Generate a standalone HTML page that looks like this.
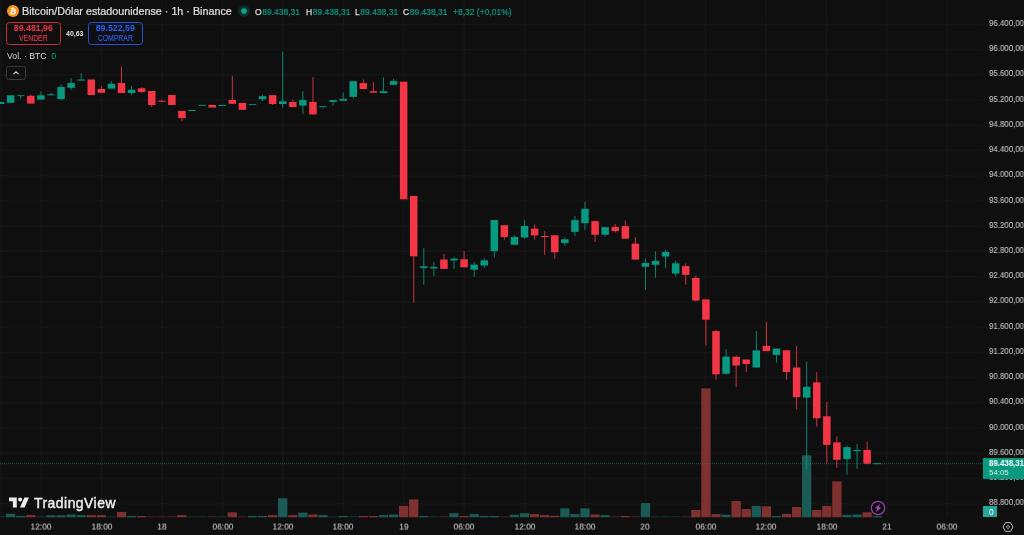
<!DOCTYPE html>
<html lang="es"><head><meta charset="utf-8"><title>BTCUSD</title>
<style>
html,body{margin:0;padding:0;background:#0f0f0f;}
body{width:1024px;height:535px;overflow:hidden;position:relative;font-family:"Liberation Sans",sans-serif;color:#d1d4dc;}
#chart{position:absolute;left:0;top:0;}
.pl{position:absolute;left:988.8px;transform:scaleX(0.955);transform-origin:0 50%;height:12px;line-height:12px;font-size:8.25px;color:#c2c2c2;-webkit-text-stroke:0.1px #c2c2c2;white-space:nowrap;}
.tl{position:absolute;top:520.6px;transform:translateY(-0.4px) rotate(0.02deg);width:60px;text-align:center;height:12px;line-height:12px;font-size:8.4px;color:#c2c2c2;-webkit-text-stroke:0.1px #c2c2c2;white-space:nowrap;}
.abs{position:absolute;white-space:nowrap;}
.abs,.pl,.tl{will-change:transform;}
.ohlc{top:5.5px;transform:translateY(0.2px);height:12px;line-height:12px;font-size:8.5px;color:#0a9e85;-webkit-text-stroke:0.2px #0a9e85;}
.ohlc .k{color:#dadada;-webkit-text-stroke:0.25px #dadada;margin-right:0.6px}
.btn{height:20.6px;border:1px solid;border-radius:3.5px;text-align:center;}
.btn b{display:block;font-size:8.8px;line-height:10px;height:10px;margin-top:0.3px;transform:translateY(0.4px);}
.btn span{display:block;font-size:8.5px;line-height:9px;height:9px;margin-top:0.4px;transform:translateY(-0.1px) scaleX(0.81);-webkit-text-stroke:0.12px;}
</style></head><body>
<svg id="chart" width="1024" height="535" viewBox="0 0 1024 535">
<rect x="0.3" y="0" width="1.5" height="517" fill="#161616"/>
<rect x="40.40" y="0" width="1.8" height="517" fill="#151515"/>
<rect x="100.80" y="0" width="1.8" height="517" fill="#151515"/>
<rect x="161.20" y="0" width="1.8" height="517" fill="#151515"/>
<rect x="221.60" y="0" width="1.8" height="517" fill="#151515"/>
<rect x="282.00" y="0" width="1.8" height="517" fill="#151515"/>
<rect x="342.40" y="0" width="1.8" height="517" fill="#151515"/>
<rect x="402.80" y="0" width="1.8" height="517" fill="#151515"/>
<rect x="463.20" y="0" width="1.8" height="517" fill="#151515"/>
<rect x="523.60" y="0" width="1.8" height="517" fill="#151515"/>
<rect x="584.00" y="0" width="1.8" height="517" fill="#151515"/>
<rect x="644.40" y="0" width="1.8" height="517" fill="#151515"/>
<rect x="704.80" y="0" width="1.8" height="517" fill="#151515"/>
<rect x="765.20" y="0" width="1.8" height="517" fill="#151515"/>
<rect x="825.60" y="0" width="1.8" height="517" fill="#151515"/>
<rect x="886.00" y="0" width="1.8" height="517" fill="#151515"/>
<rect x="946.40" y="0" width="1.8" height="517" fill="#151515"/>
<rect x="0" y="23.40" width="982.5" height="1.8" fill="#151515"/>
<rect x="0" y="48.63" width="982.5" height="1.8" fill="#151515"/>
<rect x="0" y="73.86" width="982.5" height="1.8" fill="#151515"/>
<rect x="0" y="99.09" width="982.5" height="1.8" fill="#151515"/>
<rect x="0" y="124.32" width="982.5" height="1.8" fill="#151515"/>
<rect x="0" y="149.55" width="982.5" height="1.8" fill="#151515"/>
<rect x="0" y="174.78" width="982.5" height="1.8" fill="#151515"/>
<rect x="0" y="200.01" width="982.5" height="1.8" fill="#151515"/>
<rect x="0" y="225.24" width="982.5" height="1.8" fill="#151515"/>
<rect x="0" y="250.47" width="982.5" height="1.8" fill="#151515"/>
<rect x="0" y="275.70" width="982.5" height="1.8" fill="#151515"/>
<rect x="0" y="300.93" width="982.5" height="1.8" fill="#151515"/>
<rect x="0" y="326.16" width="982.5" height="1.8" fill="#151515"/>
<rect x="0" y="351.39" width="982.5" height="1.8" fill="#151515"/>
<rect x="0" y="376.62" width="982.5" height="1.8" fill="#151515"/>
<rect x="0" y="401.85" width="982.5" height="1.8" fill="#151515"/>
<rect x="0" y="427.08" width="982.5" height="1.8" fill="#151515"/>
<rect x="0" y="452.31" width="982.5" height="1.8" fill="#151515"/>
<rect x="0" y="477.54" width="982.5" height="1.8" fill="#151515"/>
<rect x="0" y="502.77" width="982.5" height="1.8" fill="#151515"/>
<rect x="-4.05" y="516.30" width="9.3" height="1.00" fill="#123a36"/>
<rect x="6.02" y="513.80" width="9.3" height="3.50" fill="#1b5b55"/>
<rect x="16.10" y="516.00" width="9.3" height="1.30" fill="#1b5b55"/>
<rect x="26.17" y="515.10" width="9.3" height="2.20" fill="#7f3130"/>
<rect x="36.25" y="516.30" width="9.3" height="1.00" fill="#123a36"/>
<rect x="46.33" y="515.30" width="9.3" height="2.00" fill="#1b5b55"/>
<rect x="56.40" y="515.30" width="9.3" height="2.00" fill="#1b5b55"/>
<rect x="66.48" y="514.50" width="9.3" height="2.80" fill="#1b5b55"/>
<rect x="76.55" y="515.10" width="9.3" height="2.20" fill="#1b5b55"/>
<rect x="86.63" y="515.10" width="9.3" height="2.20" fill="#7f3130"/>
<rect x="96.71" y="515.10" width="9.3" height="2.20" fill="#7f3130"/>
<rect x="106.78" y="516.30" width="9.3" height="1.00" fill="#123a36"/>
<rect x="116.86" y="511.90" width="9.3" height="5.40" fill="#7f3130"/>
<rect x="126.93" y="516.00" width="9.3" height="1.30" fill="#1b5b55"/>
<rect x="137.01" y="516.00" width="9.3" height="1.30" fill="#7f3130"/>
<rect x="147.09" y="516.30" width="9.3" height="1.00" fill="#4a2221"/>
<rect x="157.16" y="516.30" width="9.3" height="1.00" fill="#4a2221"/>
<rect x="167.24" y="516.30" width="9.3" height="1.00" fill="#4a2221"/>
<rect x="177.31" y="515.10" width="9.3" height="2.20" fill="#7f3130"/>
<rect x="187.39" y="516.30" width="9.3" height="1.00" fill="#123a36"/>
<rect x="197.47" y="516.30" width="9.3" height="1.00" fill="#123a36"/>
<rect x="207.54" y="516.30" width="9.3" height="1.00" fill="#4a2221"/>
<rect x="217.62" y="516.30" width="9.3" height="1.00" fill="#123a36"/>
<rect x="227.69" y="512.30" width="9.3" height="5.00" fill="#7f3130"/>
<rect x="237.77" y="516.30" width="9.3" height="1.00" fill="#4a2221"/>
<rect x="247.85" y="516.00" width="9.3" height="1.30" fill="#1b5b55"/>
<rect x="257.92" y="516.00" width="9.3" height="1.30" fill="#1b5b55"/>
<rect x="268.00" y="515.10" width="9.3" height="2.20" fill="#7f3130"/>
<rect x="278.07" y="498.20" width="9.3" height="19.10" fill="#1b5b55"/>
<rect x="288.15" y="515.10" width="9.3" height="2.20" fill="#7f3130"/>
<rect x="298.23" y="512.60" width="9.3" height="4.70" fill="#1b5b55"/>
<rect x="308.30" y="514.50" width="9.3" height="2.80" fill="#7f3130"/>
<rect x="318.38" y="515.10" width="9.3" height="2.20" fill="#1b5b55"/>
<rect x="328.45" y="516.30" width="9.3" height="1.00" fill="#123a36"/>
<rect x="338.53" y="516.00" width="9.3" height="1.30" fill="#1b5b55"/>
<rect x="348.61" y="516.30" width="9.3" height="1.00" fill="#123a36"/>
<rect x="358.68" y="516.00" width="9.3" height="1.30" fill="#7f3130"/>
<rect x="368.76" y="516.00" width="9.3" height="1.30" fill="#7f3130"/>
<rect x="378.83" y="515.10" width="9.3" height="2.20" fill="#1b5b55"/>
<rect x="388.91" y="514.50" width="9.3" height="2.80" fill="#1b5b55"/>
<rect x="398.99" y="505.90" width="9.3" height="11.40" fill="#7f3130"/>
<rect x="409.06" y="499.40" width="9.3" height="17.90" fill="#7f3130"/>
<rect x="419.14" y="516.00" width="9.3" height="1.30" fill="#1b5b55"/>
<rect x="429.21" y="516.30" width="9.3" height="1.00" fill="#123a36"/>
<rect x="439.29" y="516.30" width="9.3" height="1.00" fill="#4a2221"/>
<rect x="449.37" y="513.20" width="9.3" height="4.10" fill="#1b5b55"/>
<rect x="459.44" y="516.00" width="9.3" height="1.30" fill="#7f3130"/>
<rect x="469.52" y="514.10" width="9.3" height="3.20" fill="#1b5b55"/>
<rect x="479.59" y="516.00" width="9.3" height="1.30" fill="#1b5b55"/>
<rect x="489.67" y="516.00" width="9.3" height="1.30" fill="#1b5b55"/>
<rect x="499.75" y="516.30" width="9.3" height="1.00" fill="#4a2221"/>
<rect x="509.82" y="514.70" width="9.3" height="2.60" fill="#1b5b55"/>
<rect x="519.90" y="513.20" width="9.3" height="4.10" fill="#1b5b55"/>
<rect x="529.97" y="514.10" width="9.3" height="3.20" fill="#7f3130"/>
<rect x="540.05" y="515.10" width="9.3" height="2.20" fill="#7f3130"/>
<rect x="550.13" y="515.80" width="9.3" height="1.50" fill="#7f3130"/>
<rect x="560.20" y="508.30" width="9.3" height="9.00" fill="#1b5b55"/>
<rect x="570.28" y="514.10" width="9.3" height="3.20" fill="#1b5b55"/>
<rect x="580.35" y="508.30" width="9.3" height="9.00" fill="#1b5b55"/>
<rect x="590.43" y="514.50" width="9.3" height="2.80" fill="#7f3130"/>
<rect x="600.51" y="515.10" width="9.3" height="2.20" fill="#1b5b55"/>
<rect x="610.58" y="516.30" width="9.3" height="1.00" fill="#4a2221"/>
<rect x="620.66" y="516.00" width="9.3" height="1.30" fill="#7f3130"/>
<rect x="630.73" y="516.30" width="9.3" height="1.00" fill="#4a2221"/>
<rect x="640.81" y="503.10" width="9.3" height="14.20" fill="#1b5b55"/>
<rect x="650.89" y="516.30" width="9.3" height="1.00" fill="#123a36"/>
<rect x="660.96" y="516.30" width="9.3" height="1.00" fill="#123a36"/>
<rect x="671.04" y="516.30" width="9.3" height="1.00" fill="#123a36"/>
<rect x="681.11" y="516.30" width="9.3" height="1.00" fill="#4a2221"/>
<rect x="691.19" y="510.00" width="9.3" height="7.30" fill="#7f3130"/>
<rect x="701.27" y="388.30" width="9.3" height="129.00" fill="#7f3130"/>
<rect x="711.34" y="514.10" width="9.3" height="3.20" fill="#7f3130"/>
<rect x="721.42" y="514.70" width="9.3" height="2.60" fill="#1b5b55"/>
<rect x="731.49" y="501.00" width="9.3" height="16.30" fill="#7f3130"/>
<rect x="741.57" y="509.10" width="9.3" height="8.20" fill="#7f3130"/>
<rect x="751.65" y="505.90" width="9.3" height="11.40" fill="#1b5b55"/>
<rect x="761.72" y="506.30" width="9.3" height="11.00" fill="#7f3130"/>
<rect x="771.80" y="516.00" width="9.3" height="1.30" fill="#1b5b55"/>
<rect x="781.87" y="513.90" width="9.3" height="3.40" fill="#7f3130"/>
<rect x="791.95" y="507.00" width="9.3" height="10.30" fill="#7f3130"/>
<rect x="802.03" y="455.30" width="9.3" height="62.00" fill="#1b5b55"/>
<rect x="812.10" y="510.00" width="9.3" height="7.30" fill="#7f3130"/>
<rect x="822.18" y="505.90" width="9.3" height="11.40" fill="#7f3130"/>
<rect x="832.25" y="481.30" width="9.3" height="36.00" fill="#7f3130"/>
<rect x="842.33" y="514.90" width="9.3" height="2.40" fill="#1b5b55"/>
<rect x="852.41" y="514.50" width="9.3" height="2.80" fill="#1b5b55"/>
<rect x="862.48" y="512.30" width="9.3" height="5.00" fill="#7f3130"/>
<rect x="872.56" y="515.90" width="9.3" height="1.40" fill="#1b5b55"/>
<line x1="0" y1="463.7" x2="983" y2="463.7" stroke="#089981" stroke-width="1" stroke-dasharray="1 1" opacity="0.55"/>
<rect x="-3.15" y="102.00" width="7.5" height="2.00" fill="#089981"/>
<rect x="6.92" y="95.30" width="7.5" height="7.60" fill="#089981"/>
<rect x="20.25" y="95.30" width="1" height="3.50" fill="#089981" opacity="0.85"/>
<rect x="17.00" y="95.30" width="7.5" height="0.80" fill="#089981"/>
<rect x="30.32" y="94.60" width="1" height="9.00" fill="#f23645" opacity="0.85"/>
<rect x="27.07" y="95.80" width="7.5" height="7.80" fill="#f23645"/>
<rect x="40.40" y="91.30" width="1" height="8.30" fill="#089981" opacity="0.85"/>
<rect x="37.15" y="95.30" width="7.5" height="4.30" fill="#089981"/>
<rect x="50.48" y="92.80" width="1" height="2.50" fill="#089981" opacity="0.85"/>
<rect x="47.23" y="94.30" width="7.5" height="1.00" fill="#089981"/>
<rect x="60.55" y="84.30" width="1" height="15.70" fill="#089981" opacity="0.85"/>
<rect x="57.30" y="87.00" width="7.5" height="12.10" fill="#089981"/>
<rect x="70.63" y="78.00" width="1" height="12.00" fill="#089981" opacity="0.85"/>
<rect x="67.38" y="83.00" width="7.5" height="4.80" fill="#089981"/>
<rect x="80.70" y="73.30" width="1" height="7.30" fill="#089981" opacity="0.85"/>
<rect x="77.45" y="79.50" width="7.5" height="1.10" fill="#089981"/>
<rect x="87.53" y="79.50" width="7.5" height="15.50" fill="#f23645"/>
<rect x="100.86" y="86.30" width="1" height="6.50" fill="#f23645" opacity="0.85"/>
<rect x="97.61" y="89.00" width="7.5" height="3.80" fill="#f23645"/>
<rect x="110.93" y="81.30" width="1" height="7.30" fill="#089981" opacity="0.85"/>
<rect x="107.68" y="83.80" width="7.5" height="4.80" fill="#089981"/>
<rect x="121.01" y="66.80" width="1" height="26.20" fill="#f23645" opacity="0.85"/>
<rect x="117.76" y="83.00" width="7.5" height="10.00" fill="#f23645"/>
<rect x="131.08" y="86.00" width="1" height="9.30" fill="#089981" opacity="0.85"/>
<rect x="127.83" y="89.80" width="7.5" height="3.20" fill="#089981"/>
<rect x="141.16" y="87.00" width="1" height="6.00" fill="#f23645" opacity="0.85"/>
<rect x="137.91" y="88.30" width="7.5" height="3.70" fill="#f23645"/>
<rect x="151.24" y="91.00" width="1" height="16.00" fill="#f23645" opacity="0.85"/>
<rect x="147.99" y="91.00" width="7.5" height="14.00" fill="#f23645"/>
<rect x="161.31" y="99.60" width="1" height="2.20" fill="#f23645" opacity="0.85"/>
<rect x="158.06" y="100.80" width="7.5" height="1.00" fill="#f23645"/>
<rect x="168.14" y="95.00" width="7.5" height="10.00" fill="#f23645"/>
<rect x="181.46" y="110.90" width="1" height="10.00" fill="#f23645" opacity="0.85"/>
<rect x="178.21" y="110.90" width="7.5" height="7.20" fill="#f23645"/>
<rect x="188.29" y="110.00" width="7.5" height="1.00" fill="#089981"/>
<rect x="198.37" y="104.80" width="7.5" height="0.90" fill="#089981"/>
<rect x="208.44" y="104.90" width="7.5" height="2.70" fill="#f23645"/>
<rect x="218.52" y="104.90" width="7.5" height="1.00" fill="#089981"/>
<rect x="231.84" y="75.80" width="1" height="28.00" fill="#f23645" opacity="0.85"/>
<rect x="228.59" y="100.00" width="7.5" height="3.80" fill="#f23645"/>
<rect x="238.67" y="102.90" width="7.5" height="6.90" fill="#f23645"/>
<rect x="248.75" y="104.20" width="7.5" height="0.80" fill="#089981"/>
<rect x="262.07" y="94.80" width="1" height="6.20" fill="#089981" opacity="0.85"/>
<rect x="258.82" y="96.20" width="7.5" height="3.00" fill="#089981"/>
<rect x="272.15" y="95.20" width="1" height="9.80" fill="#f23645" opacity="0.85"/>
<rect x="268.90" y="95.20" width="7.5" height="8.80" fill="#f23645"/>
<rect x="282.22" y="51.60" width="1" height="56.10" fill="#089981" opacity="0.85"/>
<rect x="278.97" y="101.30" width="7.5" height="2.70" fill="#089981"/>
<rect x="292.30" y="99.40" width="1" height="7.60" fill="#f23645" opacity="0.85"/>
<rect x="289.05" y="102.00" width="7.5" height="5.00" fill="#f23645"/>
<rect x="302.38" y="91.00" width="1" height="22.80" fill="#089981" opacity="0.85"/>
<rect x="299.13" y="100.10" width="7.5" height="5.50" fill="#089981"/>
<rect x="312.45" y="76.90" width="1" height="37.50" fill="#f23645" opacity="0.85"/>
<rect x="309.20" y="101.90" width="7.5" height="12.50" fill="#f23645"/>
<rect x="322.53" y="106.10" width="1" height="2.50" fill="#089981" opacity="0.85"/>
<rect x="319.28" y="106.10" width="7.5" height="0.80" fill="#089981"/>
<rect x="332.60" y="100.10" width="1" height="5.60" fill="#089981" opacity="0.85"/>
<rect x="329.35" y="100.10" width="7.5" height="1.80" fill="#089981"/>
<rect x="342.68" y="92.40" width="1" height="8.40" fill="#089981" opacity="0.85"/>
<rect x="339.43" y="98.90" width="7.5" height="1.90" fill="#089981"/>
<rect x="352.76" y="81.10" width="1" height="17.30" fill="#089981" opacity="0.85"/>
<rect x="349.51" y="81.10" width="7.5" height="15.70" fill="#089981"/>
<rect x="362.83" y="79.40" width="1" height="9.60" fill="#f23645" opacity="0.85"/>
<rect x="359.58" y="83.10" width="7.5" height="5.90" fill="#f23645"/>
<rect x="372.91" y="82.20" width="1" height="10.50" fill="#f23645" opacity="0.85"/>
<rect x="369.66" y="91.20" width="7.5" height="1.50" fill="#f23645"/>
<rect x="382.98" y="77.30" width="1" height="15.80" fill="#089981" opacity="0.85"/>
<rect x="379.73" y="91.20" width="7.5" height="1.90" fill="#089981"/>
<rect x="393.06" y="79.00" width="1" height="5.80" fill="#089981" opacity="0.85"/>
<rect x="389.81" y="81.10" width="7.5" height="3.70" fill="#089981"/>
<rect x="399.89" y="81.70" width="7.5" height="117.60" fill="#f23645"/>
<rect x="413.21" y="195.90" width="1" height="106.80" fill="#f23645" opacity="0.85"/>
<rect x="409.96" y="195.90" width="7.5" height="60.40" fill="#f23645"/>
<rect x="423.29" y="248.00" width="1" height="36.60" fill="#089981" opacity="0.85"/>
<rect x="420.04" y="266.30" width="7.5" height="1.60" fill="#089981"/>
<rect x="433.36" y="262.00" width="1" height="14.00" fill="#089981" opacity="0.85"/>
<rect x="430.11" y="267.00" width="7.5" height="1.40" fill="#089981"/>
<rect x="443.44" y="254.00" width="1" height="14.90" fill="#f23645" opacity="0.85"/>
<rect x="440.19" y="259.50" width="7.5" height="9.40" fill="#f23645"/>
<rect x="453.52" y="256.60" width="1" height="12.30" fill="#089981" opacity="0.85"/>
<rect x="450.27" y="258.70" width="7.5" height="1.80" fill="#089981"/>
<rect x="463.59" y="251.10" width="1" height="16.20" fill="#f23645" opacity="0.85"/>
<rect x="460.34" y="259.20" width="7.5" height="8.10" fill="#f23645"/>
<rect x="473.67" y="262.00" width="1" height="14.80" fill="#089981" opacity="0.85"/>
<rect x="470.42" y="264.70" width="7.5" height="5.00" fill="#089981"/>
<rect x="483.74" y="258.20" width="1" height="9.70" fill="#089981" opacity="0.85"/>
<rect x="480.49" y="260.30" width="7.5" height="5.20" fill="#089981"/>
<rect x="493.82" y="220.00" width="1" height="37.60" fill="#089981" opacity="0.85"/>
<rect x="490.57" y="220.00" width="7.5" height="31.10" fill="#089981"/>
<rect x="503.90" y="225.20" width="1" height="14.40" fill="#f23645" opacity="0.85"/>
<rect x="500.65" y="225.20" width="7.5" height="11.80" fill="#f23645"/>
<rect x="513.97" y="234.90" width="1" height="9.90" fill="#089981" opacity="0.85"/>
<rect x="510.72" y="237.00" width="7.5" height="7.80" fill="#089981"/>
<rect x="524.05" y="220.20" width="1" height="18.60" fill="#089981" opacity="0.85"/>
<rect x="520.80" y="226.00" width="7.5" height="11.50" fill="#089981"/>
<rect x="534.12" y="224.40" width="1" height="15.20" fill="#f23645" opacity="0.85"/>
<rect x="530.87" y="228.60" width="7.5" height="6.80" fill="#f23645"/>
<rect x="544.20" y="231.20" width="1" height="23.80" fill="#f23645" opacity="0.85"/>
<rect x="540.95" y="236.00" width="7.5" height="1.10" fill="#f23645"/>
<rect x="554.28" y="235.30" width="1" height="23.50" fill="#f23645" opacity="0.85"/>
<rect x="551.03" y="235.30" width="7.5" height="17.00" fill="#f23645"/>
<rect x="564.35" y="237.20" width="1" height="8.50" fill="#089981" opacity="0.85"/>
<rect x="561.10" y="239.30" width="7.5" height="3.70" fill="#089981"/>
<rect x="574.43" y="215.90" width="1" height="19.90" fill="#089981" opacity="0.85"/>
<rect x="571.18" y="220.10" width="7.5" height="11.80" fill="#089981"/>
<rect x="584.50" y="202.00" width="1" height="27.80" fill="#089981" opacity="0.85"/>
<rect x="581.25" y="208.80" width="7.5" height="14.40" fill="#089981"/>
<rect x="594.58" y="221.10" width="1" height="20.90" fill="#f23645" opacity="0.85"/>
<rect x="591.33" y="221.10" width="7.5" height="13.60" fill="#f23645"/>
<rect x="604.66" y="227.20" width="1" height="9.40" fill="#089981" opacity="0.85"/>
<rect x="601.41" y="227.20" width="7.5" height="7.50" fill="#089981"/>
<rect x="614.73" y="224.00" width="1" height="8.40" fill="#f23645" opacity="0.85"/>
<rect x="611.48" y="226.90" width="7.5" height="4.20" fill="#f23645"/>
<rect x="624.81" y="220.40" width="1" height="18.30" fill="#f23645" opacity="0.85"/>
<rect x="621.56" y="226.10" width="7.5" height="12.60" fill="#f23645"/>
<rect x="634.88" y="237.10" width="1" height="22.50" fill="#f23645" opacity="0.85"/>
<rect x="631.63" y="243.60" width="7.5" height="16.00" fill="#f23645"/>
<rect x="644.96" y="258.30" width="1" height="31.40" fill="#089981" opacity="0.85"/>
<rect x="641.71" y="263.00" width="7.5" height="3.70" fill="#089981"/>
<rect x="655.04" y="251.50" width="1" height="26.20" fill="#089981" opacity="0.85"/>
<rect x="651.79" y="260.90" width="7.5" height="3.90" fill="#089981"/>
<rect x="665.11" y="249.70" width="1" height="18.30" fill="#089981" opacity="0.85"/>
<rect x="661.86" y="252.00" width="7.5" height="4.50" fill="#089981"/>
<rect x="675.19" y="260.60" width="1" height="16.00" fill="#089981" opacity="0.85"/>
<rect x="671.94" y="263.30" width="7.5" height="10.20" fill="#089981"/>
<rect x="685.26" y="263.50" width="1" height="21.20" fill="#f23645" opacity="0.85"/>
<rect x="682.01" y="266.10" width="7.5" height="8.70" fill="#f23645"/>
<rect x="695.34" y="275.60" width="1" height="26.20" fill="#f23645" opacity="0.85"/>
<rect x="692.09" y="277.90" width="7.5" height="22.60" fill="#f23645"/>
<rect x="705.42" y="299.40" width="1" height="46.10" fill="#f23645" opacity="0.85"/>
<rect x="702.17" y="299.40" width="7.5" height="20.30" fill="#f23645"/>
<rect x="715.49" y="330.00" width="1" height="49.60" fill="#f23645" opacity="0.85"/>
<rect x="712.24" y="331.10" width="7.5" height="43.20" fill="#f23645"/>
<rect x="725.57" y="349.20" width="1" height="25.50" fill="#089981" opacity="0.85"/>
<rect x="722.32" y="356.60" width="7.5" height="17.10" fill="#089981"/>
<rect x="735.64" y="355.40" width="1" height="31.60" fill="#f23645" opacity="0.85"/>
<rect x="732.39" y="356.80" width="7.5" height="8.70" fill="#f23645"/>
<rect x="745.72" y="359.50" width="1" height="12.50" fill="#f23645" opacity="0.85"/>
<rect x="742.47" y="359.50" width="7.5" height="4.50" fill="#f23645"/>
<rect x="755.80" y="330.90" width="1" height="36.60" fill="#089981" opacity="0.85"/>
<rect x="752.55" y="350.40" width="7.5" height="17.10" fill="#089981"/>
<rect x="765.87" y="321.90" width="1" height="29.20" fill="#f23645" opacity="0.85"/>
<rect x="762.62" y="345.90" width="7.5" height="5.20" fill="#f23645"/>
<rect x="775.95" y="348.60" width="1" height="14.00" fill="#089981" opacity="0.85"/>
<rect x="772.70" y="348.60" width="7.5" height="6.40" fill="#089981"/>
<rect x="786.02" y="350.30" width="1" height="29.50" fill="#f23645" opacity="0.85"/>
<rect x="782.77" y="350.30" width="7.5" height="21.70" fill="#f23645"/>
<rect x="796.10" y="345.80" width="1" height="63.50" fill="#f23645" opacity="0.85"/>
<rect x="792.85" y="367.50" width="7.5" height="29.70" fill="#f23645"/>
<rect x="806.18" y="361.40" width="1" height="107.90" fill="#089981" opacity="0.85"/>
<rect x="802.93" y="386.90" width="7.5" height="10.70" fill="#089981"/>
<rect x="816.25" y="371.80" width="1" height="54.90" fill="#f23645" opacity="0.85"/>
<rect x="813.00" y="382.40" width="7.5" height="35.90" fill="#f23645"/>
<rect x="826.33" y="401.80" width="1" height="61.90" fill="#f23645" opacity="0.85"/>
<rect x="823.08" y="416.30" width="7.5" height="28.60" fill="#f23645"/>
<rect x="836.40" y="436.30" width="1" height="31.40" fill="#f23645" opacity="0.85"/>
<rect x="833.15" y="442.40" width="7.5" height="17.40" fill="#f23645"/>
<rect x="846.48" y="445.50" width="1" height="29.20" fill="#089981" opacity="0.85"/>
<rect x="843.23" y="447.20" width="7.5" height="11.80" fill="#089981"/>
<rect x="856.56" y="443.80" width="1" height="25.00" fill="#089981" opacity="0.85"/>
<rect x="853.31" y="450.00" width="7.5" height="1.20" fill="#089981"/>
<rect x="866.63" y="441.60" width="1" height="22.70" fill="#f23645" opacity="0.85"/>
<rect x="863.38" y="450.00" width="7.5" height="13.70" fill="#f23645"/>
<rect x="873.46" y="463.20" width="7.5" height="1.00" fill="#089981"/>
</svg>
<div class="pl" style="top:17.90px">96.400,00</div>
<div class="pl" style="top:43.13px">96.000,00</div>
<div class="pl" style="top:68.36px">95.600,00</div>
<div class="pl" style="top:93.59px">95.200,00</div>
<div class="pl" style="top:118.82px">94.800,00</div>
<div class="pl" style="top:144.05px">94.400,00</div>
<div class="pl" style="top:169.28px">94.000,00</div>
<div class="pl" style="top:194.51px">93.600,00</div>
<div class="pl" style="top:219.74px">93.200,00</div>
<div class="pl" style="top:244.97px">92.800,00</div>
<div class="pl" style="top:270.20px">92.400,00</div>
<div class="pl" style="top:295.43px">92.000,00</div>
<div class="pl" style="top:320.66px">91.600,00</div>
<div class="pl" style="top:345.89px">91.200,00</div>
<div class="pl" style="top:371.12px">90.800,00</div>
<div class="pl" style="top:396.35px">90.400,00</div>
<div class="pl" style="top:421.58px">90.000,00</div>
<div class="pl" style="top:446.81px">89.600,00</div>
<div class="pl" style="top:472.04px">89.200,00</div>
<div class="pl" style="top:497.27px">88.800,00</div>
<div class="tl" style="left:11.30px">12:00</div>
<div class="tl" style="left:71.70px">18:00</div>
<div class="tl" style="left:132.10px">18</div>
<div class="tl" style="left:192.50px">06:00</div>
<div class="tl" style="left:252.90px">12:00</div>
<div class="tl" style="left:313.30px">18:00</div>
<div class="tl" style="left:373.70px">19</div>
<div class="tl" style="left:434.10px">06:00</div>
<div class="tl" style="left:494.50px">12:00</div>
<div class="tl" style="left:554.90px">18:00</div>
<div class="tl" style="left:615.30px">20</div>
<div class="tl" style="left:675.70px">06:00</div>
<div class="tl" style="left:736.10px">12:00</div>
<div class="tl" style="left:796.50px">18:00</div>
<div class="tl" style="left:856.90px">21</div>
<div class="tl" style="left:917.30px">06:00</div>
<!-- header -->
<svg class="abs" style="left:6.9px;top:5px" width="12" height="12" viewBox="0 0 12 12"><circle cx="6" cy="6" r="6" fill="#f7931a"/><text x="6.1" y="8.9" font-family="Liberation Sans, sans-serif" font-size="8" font-weight="bold" fill="#fff" text-anchor="middle" transform="rotate(12 6 6)">₿</text></svg>
<div class="abs" id="title" style="left:21.9px;top:4px;height:14px;line-height:14px;font-size:10.76px;color:#e0e0e0;-webkit-text-stroke:0.2px #e0e0e0;">Bitcoin/Dólar estadounidense · 1h · Binance</div>
<svg class="abs" style="left:236.8px;top:3.75px" width="14" height="14" viewBox="0 0 14 14"><circle cx="7" cy="7" r="6.1" fill="#0f2d28"/><circle cx="7" cy="7" r="2.85" fill="#0aa58c"/></svg>
<div class="abs ohlc" style="left:255.2px;"><span class="k">O</span>89.438,31</div>
<div class="abs ohlc" style="left:305.6px;"><span class="k">H</span>89.438,31</div>
<div class="abs ohlc" style="left:355.1px;"><span class="k">L</span>89.438,31</div>
<div class="abs ohlc" style="left:403.2px;"><span class="k">C</span>89.438,31</div>
<div class="abs ohlc" style="left:452.7px;">+8,32 (+0,01%)</div>
<!-- sell / buy -->
<div class="abs btn" style="left:6.3px;top:22.2px;width:52.7px;border-color:#c62d3a;color:#f23645;"><b>89.481,96</b><span>VENDER</span></div>
<div class="abs" style="left:66px;top:28.6px;height:10px;line-height:10px;font-size:7px;color:#e0e0e0;font-weight:bold;">40,63</div>
<div class="abs btn" style="left:88px;top:22.2px;width:52.6px;border-color:#2452d6;color:#2962ff;"><b>89.522,59</b><span>COMPRAR</span></div>
<!-- vol legend -->
<div class="abs" style="left:6.9px;top:50.5px;height:11px;line-height:11px;font-size:8.7px;color:#d6d6d6;">Vol. · BTC<span style="color:#0aa58c;margin-left:4.6px">0</span></div>
<!-- collapse -->
<div class="abs" style="left:6.3px;top:66.3px;width:17.5px;height:12.2px;border:1px solid #3a3a3a;border-radius:2.5px;"></div>
<svg class="abs" style="left:11px;top:68.2px" width="10" height="10" viewBox="0 0 10 10"><path d="M2.4 6.2 L5 3.8 L7.6 6.2" fill="none" stroke="#d0d0d0" stroke-width="1.1"/></svg>
<!-- TV logo -->
<svg class="abs" style="left:8.9px;top:497.3px" width="20" height="11" viewBox="0 0 36 18.4"><path d="M14 18.4H7V7H0V0h14v18.4z" fill="#ededed"/><circle cx="20" cy="3.6" r="3.6" fill="#ededed"/><path d="M28 18.4h-8.2L27.6 0H36l-8 18.4z" fill="#ededed"/></svg>
<div class="abs" id="tv" style="left:34.3px;top:493.7px;height:18px;line-height:18px;font-size:13.9px;font-weight:normal;-webkit-text-stroke:0.45px #ededed;letter-spacing:0.5px;color:#ededed;">TradingView</div>
<!-- lightning -->
<svg class="abs" style="left:869.8px;top:500.4px" width="16" height="16" viewBox="0 0 16 16"><circle cx="8" cy="8" r="6.7" fill="#0f0f0f" stroke="#9c3fb0" stroke-width="1.2"/><path d="M10.2 4.1 L5 7.9 L7.5 8.4 L5.6 12.2 L11.1 7.7 L8.6 7.2 Z" fill="#b04cc4"/></svg>
<!-- price label -->
<div class="abs" style="left:982.9px;top:458.1px;width:41.1px;height:20.8px;background:#089981;"></div>
<div class="abs" style="left:988.8px;top:457.4px;height:12px;line-height:12px;font-size:8.4px;font-weight:bold;color:#fff;transform:scaleX(0.94);transform-origin:0 50%;">89.438,31</div>
<div class="abs" style="left:988.8px;top:466.5px;height:12px;line-height:12px;font-size:7.9px;color:#d5efe9;">54:05</div>
<!-- vol label -->
<div class="abs" style="left:983.2px;top:506.3px;width:13.7px;height:10.9px;background:#26a69a;"></div>
<div class="abs" style="left:988.5px;top:505.8px;height:12px;line-height:12px;font-size:8.4px;color:#fff;">0</div>
<!-- gear -->
<svg class="abs" style="left:1000.8px;top:520.4px" width="14" height="14" viewBox="0 0 14 14"><path d="M2 7 L4.5 2.65 H9.5 L12 7 L9.5 11.35 H4.5 Z" fill="none" stroke="#c0c0c0" stroke-width="1" stroke-linejoin="round"/><circle cx="7" cy="7" r="1.45" fill="none" stroke="#aaaaaa" stroke-width="0.85"/></svg>

</body></html>
